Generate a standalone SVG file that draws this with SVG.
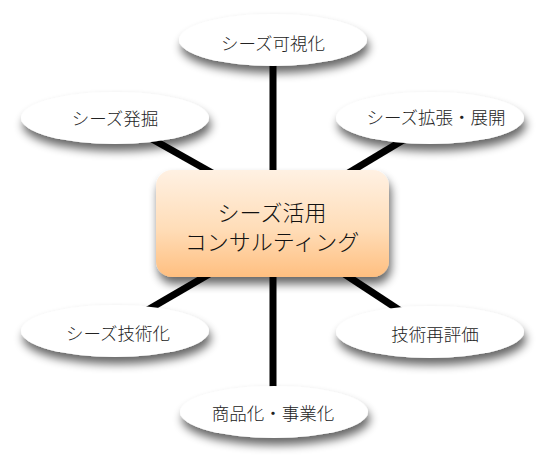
<svg xmlns="http://www.w3.org/2000/svg" width="546" height="467" viewBox="0 0 546 467">
<defs>
<linearGradient id="g" x1="0" y1="0" x2="0" y2="1">
<stop offset="0" stop-color="#FFF1E3"/>
<stop offset="0.55" stop-color="#FFDDB8"/>
<stop offset="1" stop-color="#FFBF80"/>
</linearGradient>
<filter id="sh" x="-20%" y="-30%" width="145%" height="180%">
<feGaussianBlur in="SourceAlpha" stdDeviation="5"/>
<feOffset dx="2" dy="7" result="b"/>
<feComponentTransfer><feFuncA type="linear" slope="0.6"/></feComponentTransfer>
<feMerge><feMergeNode/><feMergeNode in="SourceGraphic"/></feMerge>
</filter>
<style>
.c{stroke:#000;stroke-width:7;fill:none}
.e{fill:#fff;filter:url(#sh)}
.t{font-family:"Noto Sans CJK JP","Noto Sans",sans-serif;font-weight:300;font-size:17.5px;fill:#222;text-anchor:middle;dominant-baseline:central}
.m{font-family:"Noto Sans CJK JP","Noto Sans",sans-serif;font-weight:300;font-size:22px;fill:#111;text-anchor:middle;dominant-baseline:central}
</style>
</defs>
<rect width="546" height="467" fill="#fff"/>
<g id="connectors">
<line class="c" x1="273" y1="50" x2="273" y2="200"/>
<line class="c" x1="273" y1="250" x2="273" y2="400"/>
<line class="c" x1="120" y1="121" x2="230" y2="183"/>
<line class="c" x1="425" y1="127" x2="320" y2="190"/>
<line class="c" x1="120" y1="326" x2="230" y2="262"/>
<line class="c" x1="425" y1="327" x2="320" y2="258"/>
</g>
<g id="center">
<rect x="156" y="170" width="233" height="107" rx="16" fill="url(#g)" filter="url(#sh)"/>
<text class="m" x="272" y="211">シーズ活用</text>
<text class="m" x="272" y="240">コンサルティング</text>
</g>
<g id="n1"><ellipse class="e" cx="273" cy="40" rx="94" ry="26"/><text class="t" x="273" y="42">シーズ可視化</text></g>
<g id="n2"><ellipse class="e" cx="115" cy="118" rx="94" ry="26"/><text class="t" x="115" y="117">シーズ発掘</text></g>
<g id="n3"><ellipse class="e" cx="430" cy="118" rx="94" ry="26"/><text class="t" x="436" y="116">シーズ拡張・展開</text></g>
<g id="n4"><ellipse class="e" cx="115" cy="331" rx="94" ry="26"/><text class="t" x="118" y="332">シーズ技術化</text></g>
<g id="n5"><ellipse class="e" cx="430" cy="332" rx="94" ry="26"/><text class="t" x="435" y="333">技術再評価</text></g>
<g id="n6"><ellipse class="e" cx="274" cy="412" rx="94" ry="26"/><text class="t" x="273" y="412">商品化・事業化</text></g>
</svg>
